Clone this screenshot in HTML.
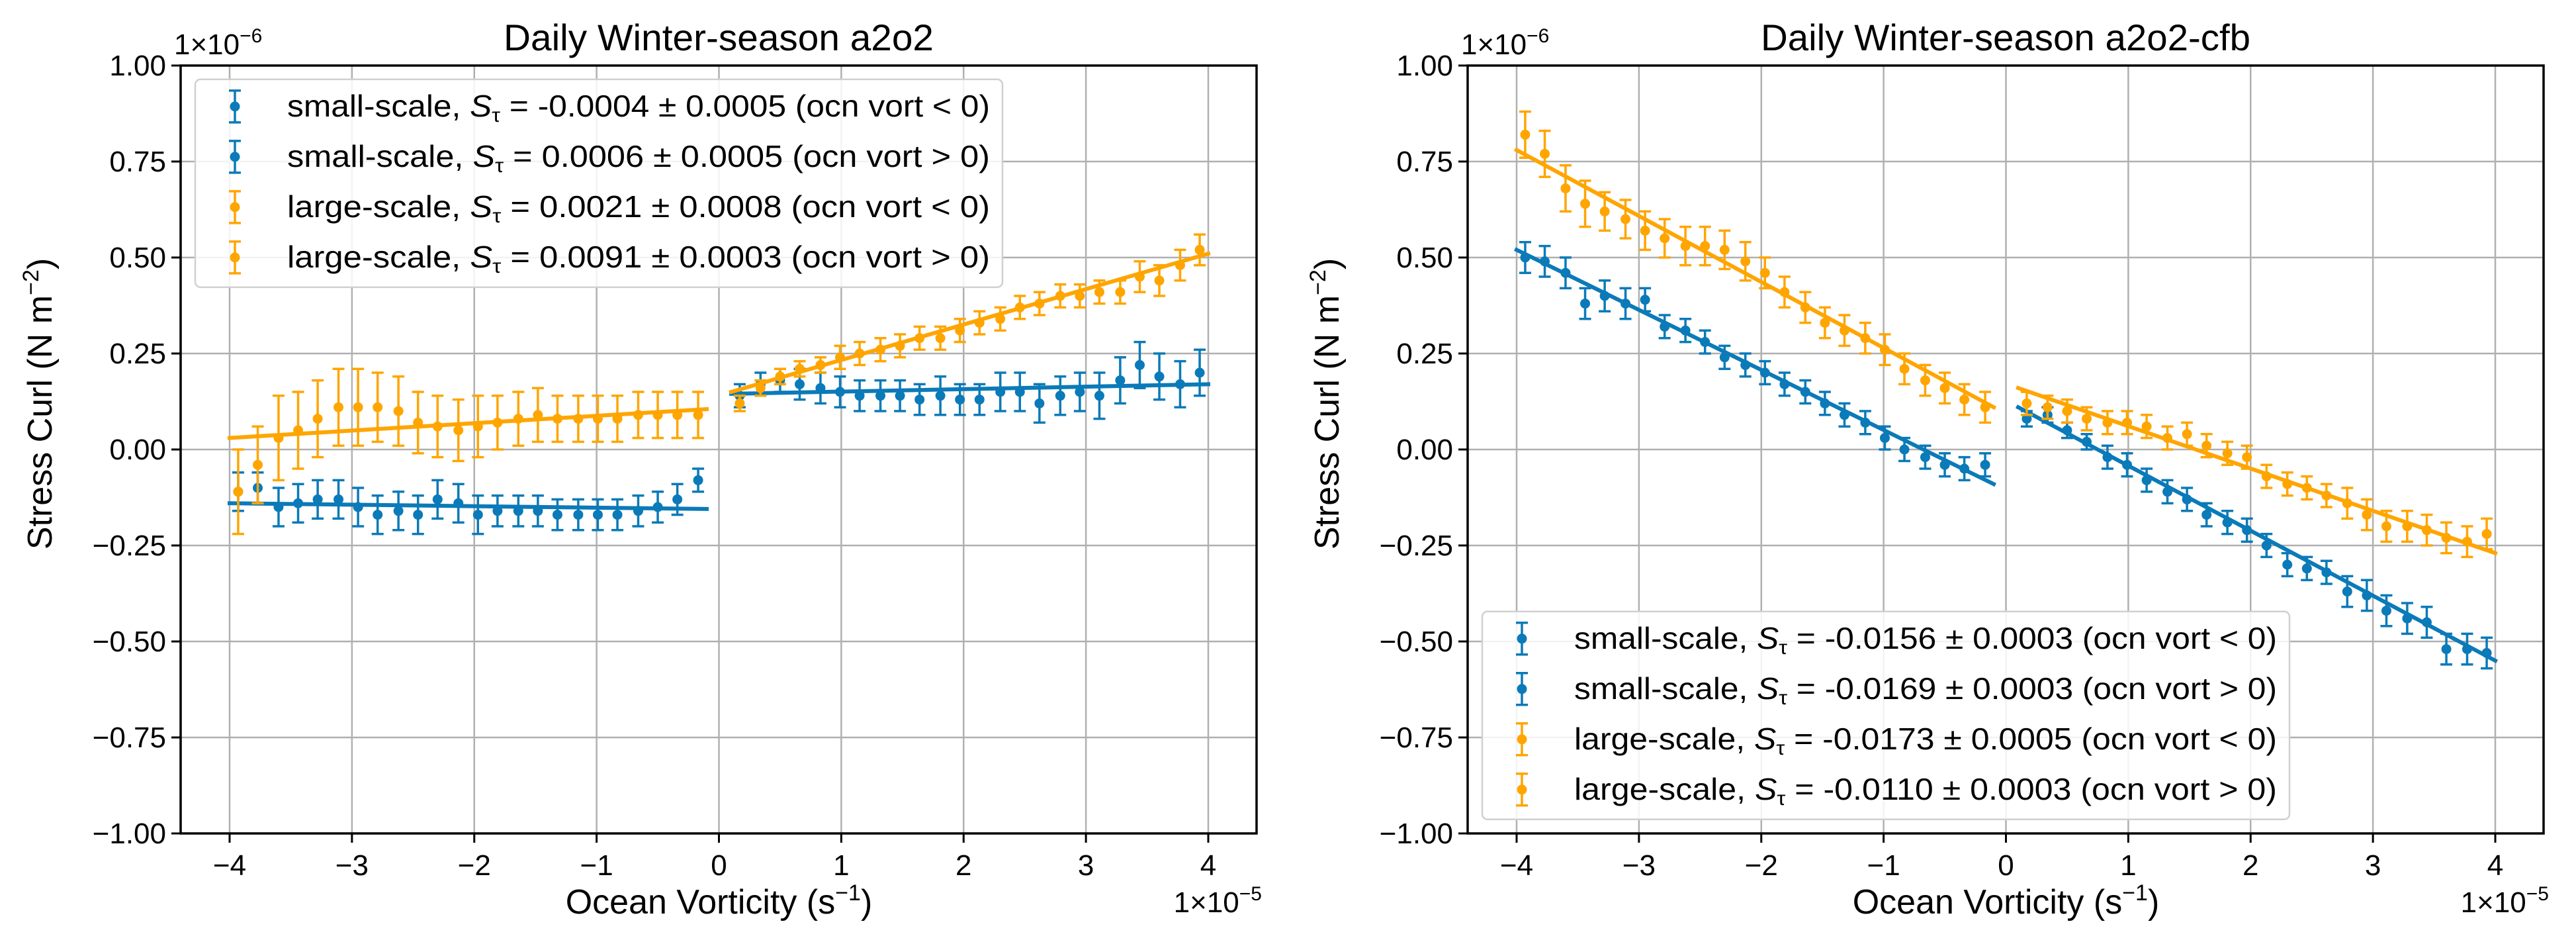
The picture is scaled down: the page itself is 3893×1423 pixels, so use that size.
<!DOCTYPE html>
<html><head><meta charset="utf-8"><title>Daily Winter-season stress curl</title>
<style>
html,body{margin:0;padding:0;background:#fff;}
svg{display:block;font-family:"Liberation Sans","DejaVu Sans",sans-serif;}
</style></head>
<body>
<svg id="fig" width="3893" height="1423" viewBox="0 0 3893 1423" xmlns="http://www.w3.org/2000/svg"></svg>
<script>
// ---------- data ----------
const xNeg = [-3.93,-3.77,-3.60,-3.44,-3.28,-3.11,-2.95,-2.79,-2.62,-2.46,-2.30,-2.13,-1.97,-1.81,-1.64,-1.48,-1.32,-1.15,-0.99,-0.83,-0.66,-0.50,-0.34,-0.17];
const xPos = [0.17,0.34,0.50,0.66,0.83,0.99,1.15,1.32,1.48,1.64,1.81,1.97,2.13,2.30,2.46,2.62,2.79,2.95,3.11,3.28,3.44,3.60,3.77,3.93];
const tickX = [-4,-3,-2,-1,0,1,2,3,4];
const tickXLabels = ["\u22124","\u22123","\u22122","\u22121","0","1","2","3","4"];
const tickY = [1,0.75,0.5,0.25,0,-0.25,-0.5,-0.75,-1];
const tickYLabels = ["1.00","0.75","0.50","0.25","0.00","\u22120.25","\u22120.50","\u22120.75","\u22121.00"];

// panel A (a2o2)
const aSmallNeg = [-0.11,-0.10,-0.15,-0.14,-0.13,-0.13,-0.15,-0.17,-0.16,-0.17,-0.13,-0.14,-0.17,-0.16,-0.16,-0.16,-0.17,-0.17,-0.17,-0.17,-0.16,-0.15,-0.13,-0.08];
const aSmallNegErr = [0.05,0.04,0.05,0.05,0.05,0.05,0.05,0.05,0.05,0.05,0.05,0.05,0.05,0.04,0.04,0.04,0.04,0.04,0.04,0.04,0.04,0.04,0.04,0.03];
const aSmallPos = [0.14,0.17,0.18,0.17,0.16,0.15,0.14,0.14,0.14,0.13,0.14,0.13,0.13,0.15,0.15,0.12,0.14,0.15,0.14,0.18,0.22,0.19,0.17,0.20];
const aSmallPosErr = [0.03,0.03,0.03,0.04,0.04,0.04,0.04,0.04,0.04,0.04,0.05,0.04,0.04,0.05,0.05,0.05,0.05,0.05,0.06,0.06,0.06,0.06,0.06,0.06];
const aLargeNeg = [-0.11,-0.04,0.03,0.05,0.08,0.11,0.11,0.11,0.10,0.07,0.06,0.05,0.06,0.07,0.08,0.09,0.08,0.08,0.08,0.08,0.09,0.09,0.09,0.09];
const aLargeNegErr = [0.11,0.10,0.11,0.10,0.10,0.10,0.10,0.09,0.09,0.08,0.08,0.08,0.08,0.07,0.07,0.07,0.06,0.06,0.06,0.06,0.06,0.06,0.06,0.06];
const aLargePos = [0.12,0.16,0.19,0.21,0.22,0.24,0.25,0.26,0.27,0.29,0.29,0.31,0.33,0.34,0.37,0.38,0.40,0.40,0.41,0.41,0.45,0.44,0.48,0.52];
const aLargePosErr = [0.02,0.02,0.02,0.02,0.02,0.03,0.03,0.03,0.03,0.03,0.03,0.03,0.03,0.03,0.03,0.03,0.03,0.03,0.03,0.03,0.04,0.04,0.04,0.04];
const aFitSmall = [-0.14,-0.155,0.145,0.17];   // neg start,end ; pos start,end
const aFitLarge = [0.03,0.105,0.15,0.51];

// panel B (a2o2-cfb)
const bSmallNeg = [0.50,0.49,0.46,0.38,0.40,0.38,0.39,0.32,0.31,0.28,0.24,0.22,0.20,0.17,0.15,0.12,0.09,0.07,0.03,0.00,-0.02,-0.04,-0.05,-0.04];
const bSmallNegErr = [0.04,0.04,0.04,0.04,0.04,0.04,0.03,0.03,0.03,0.03,0.03,0.03,0.03,0.03,0.03,0.03,0.03,0.03,0.03,0.03,0.03,0.03,0.03,0.03];
const bSmallPos = [0.08,0.09,0.05,0.02,-0.02,-0.04,-0.08,-0.11,-0.13,-0.17,-0.19,-0.21,-0.25,-0.30,-0.31,-0.32,-0.37,-0.38,-0.42,-0.44,-0.45,-0.52,-0.52,-0.53];
const bSmallPosErr = [0.02,0.02,0.02,0.02,0.03,0.03,0.03,0.03,0.03,0.03,0.03,0.03,0.03,0.03,0.03,0.03,0.04,0.04,0.04,0.04,0.04,0.04,0.04,0.04];
const bLargeNeg = [0.82,0.77,0.68,0.64,0.62,0.60,0.57,0.55,0.53,0.53,0.52,0.49,0.46,0.41,0.37,0.33,0.31,0.29,0.26,0.21,0.18,0.16,0.13,0.11];
const bLargeNegErr = [0.06,0.06,0.06,0.06,0.05,0.05,0.05,0.05,0.05,0.05,0.05,0.05,0.04,0.04,0.04,0.04,0.04,0.04,0.04,0.04,0.04,0.04,0.04,0.04];
const bLargePos = [0.12,0.11,0.10,0.08,0.07,0.07,0.06,0.03,0.04,0.01,-0.01,-0.02,-0.07,-0.09,-0.10,-0.12,-0.14,-0.17,-0.20,-0.20,-0.21,-0.23,-0.24,-0.22];
const bLargePosErr = [0.03,0.03,0.03,0.03,0.03,0.03,0.03,0.03,0.03,0.03,0.03,0.03,0.03,0.03,0.03,0.03,0.04,0.04,0.04,0.04,0.04,0.04,0.04,0.04];
const bFitSmall = [0.52,-0.09,0.11,-0.55];
const bFitLarge = [0.78,0.11,0.16,-0.27];

const fitXNeg = [-4,-0.1];
const fitXPos = [0.1,4];

const aLegend = [["small-scale, ","= -0.0004 \u00b1 0.0005 (ocn vort < 0)"],["small-scale, ","= 0.0006 \u00b1 0.0005 (ocn vort > 0)"],["large-scale, ","= 0.0021 \u00b1 0.0008 (ocn vort < 0)"],["large-scale, ","= 0.0091 \u00b1 0.0003 (ocn vort > 0)"]];
const bLegend = [["small-scale, ","= -0.0156 \u00b1 0.0003 (ocn vort < 0)"],["small-scale, ","= -0.0169 \u00b1 0.0003 (ocn vort > 0)"],["large-scale, ","= -0.0173 \u00b1 0.0005 (ocn vort < 0)"],["large-scale, ","= -0.0110 \u00b1 0.0003 (ocn vort > 0)"]];

// ---------- drawing ----------
const NS = "http://www.w3.org/2000/svg";
const svg = document.getElementById("fig");
const BLUE = "#0b7ab8", ORANGE = "#ffa500";
function mk(tag, attrs, parent){ const e=document.createElementNS(NS,tag); for(const k in attrs) e.setAttribute(k,attrs[k]); (parent||svg).appendChild(e); return e; }

function panel(off, title, data, legendTop, legend, key){
  const L=273+off, R=1899+off, T=99, B=1259;
  const xs = v => 347+off + (v+4)*(1826-347)/8;
  const ys = v => T + (1-v)/2*(B-T);
  const g = mk("g",{});
  
  
  // grid
  tickX.forEach(t=>{ const l=mk("line",{x1:xs(t),x2:xs(t),y1:T,y2:B,stroke:"#b0b0b0","stroke-width":2.5},g);
      });
  tickY.forEach(t=>{ const l=mk("line",{x1:L,x2:R,y1:ys(t),y2:ys(t),stroke:"#b0b0b0","stroke-width":2.5},g);
      });
  // series
  data.forEach(s=>{
    const sg=mk("g",{},g);
    
    
    s.x.forEach((xv,i)=>{
      const cx=xs(xv), y1=ys(s.y[i]+s.e[i]), y2=ys(s.y[i]-s.e[i]);
      const eb=mk("path",{d:`M${cx},${y1}V${y2}M${cx-9},${y1}H${cx+9}M${cx-9},${y2}H${cx+9}`,stroke:s.c,"stroke-width":3.5,fill:"none"},sg);
       
      const c=mk("circle",{cx:cx,cy:ys(s.y[i]),r:7.5,fill:s.c},sg);
       
    });
    const fl=mk("line",{x1:xs(s.fx[0]),y1:ys(s.fy[0]),x2:xs(s.fx[1]),y2:ys(s.fy[1]),stroke:s.c,"stroke-width":6,"stroke-linecap":"square"},sg);
     
  });
  // spines
  const fr=mk("rect",{x:L,y:T,width:R-L,height:B-T,fill:"none",stroke:"#000","stroke-width":3.5},g);
   
  // ticks
  tickX.forEach((t,i)=>{ mk("line",{x1:xs(t),x2:xs(t),y1:B,y2:B+14,stroke:"#000","stroke-width":3},g);
    const tx=mk("text",{x:xs(t),y:1322,"font-size":44,"text-anchor":"middle",fill:"#000"},g); tx.textContent=tickXLabels[i];
      });
  tickY.forEach((t,i)=>{ mk("line",{x1:L-14,x2:L,y1:ys(t),y2:ys(t),stroke:"#000","stroke-width":3},g);
    const tx=mk("text",{x:L-22,y:ys(t)+15,"font-size":44,"text-anchor":"end",fill:"#000"},g); tx.textContent=tickYLabels[i];
      });
  // title and labels
  const ti=mk("text",{x:(L+R)/2,y:76,"font-size":56,"text-anchor":"middle",fill:"#000"},g); ti.textContent=title;
  ti.setAttribute('textLength', key==="a2o2"?650:740);
  ti.setAttribute('lengthAdjust','spacingAndGlyphs');
   
  const xl=mk("text",{x:xs(0),y:1380,"font-size":52,"text-anchor":"middle",fill:"#000"},g);
  xl.innerHTML='Ocean Vorticity (s<tspan dy="-20" font-size="34">\u22121</tspan><tspan dy="20">)</tspan>';
   
  const yl=mk("text",{x:0,y:0,"font-size":52,"text-anchor":"middle",fill:"#000",transform:`translate(${off+78},${ys(0)-69}) rotate(-90)`},g);
  yl.innerHTML='Stress Curl (N m<tspan dy="-20" font-size="34">\u22122</tspan><tspan dy="20">)</tspan>';
   
  const oy=mk("text",{x:L-10,y:82,"font-size":44,fill:"#000"},g);
  oy.innerHTML='1\u00d710<tspan dy="-18" font-size="30">\u22126</tspan>';
   
  const ox=mk("text",{x:R+8,y:1378,"font-size":44,"text-anchor":"end",fill:"#000"},g);
  ox.innerHTML='1\u00d710<tspan dy="-18" font-size="30">\u22125</tspan>';
   
  // legend
  const lg=mk("g",{},g);
   
  const top=ys(legendTop);
  mk("rect",{x:295+off,y:top,width:1220,height:314,rx:8,fill:"#fff","fill-opacity":0.85,stroke:"#d0d0d0","stroke-width":2.5},lg);
  legend.forEach((lab,i)=>{
    const yy=top+41+i*76, c=i<2?BLUE:ORANGE, mx=355+off;
    const e=mk("g",{},lg);
     
    mk("path",{d:`M${mx},${yy-24}V${yy+24}M${mx-9},${yy-24}H${mx+9}M${mx-9},${yy+24}H${mx+9}`,stroke:c,"stroke-width":3.5,fill:"none"},e);
    mk("circle",{cx:mx,cy:yy,r:7.5,fill:c},e);
    const t=mk("text",{x:434+off,y:yy+15,"font-size":46,fill:"#000"},e);
    t.innerHTML=`${lab[0]}<tspan font-style="italic">S</tspan><tspan font-size="30" dy="8">\u03c4</tspan><tspan dy="-8"> ${lab[1]}</tspan>`;
    t.setAttribute('textLength', 1062);
    t.setAttribute('lengthAdjust','spacingAndGlyphs');
  });
}

function series(name,x,y,e,c,fx,fy){ return {name,x,y,e,c,fx,fy}; }

panel(0,"Daily Winter-season a2o2",[
  series("small-scale-neg",xNeg,aSmallNeg,aSmallNegErr,BLUE,fitXNeg,[aFitSmall[0],aFitSmall[1]]),
  series("small-scale-pos",xPos,aSmallPos,aSmallPosErr,BLUE,fitXPos,[aFitSmall[2],aFitSmall[3]]),
  series("large-scale-neg",xNeg,aLargeNeg,aLargeNegErr,ORANGE,fitXNeg,[aFitLarge[0],aFitLarge[1]]),
  series("large-scale-pos",xPos,aLargePos,aLargePosErr,ORANGE,fitXPos,[aFitLarge[2],aFitLarge[3]])
],0.964,aLegend,"a2o2");

panel(1945,"Daily Winter-season a2o2-cfb",[
  series("small-scale-neg",xNeg,bSmallNeg,bSmallNegErr,BLUE,fitXNeg,[bFitSmall[0],bFitSmall[1]]),
  series("small-scale-pos",xPos,bSmallPos,bSmallPosErr,BLUE,fitXPos,[bFitSmall[2],bFitSmall[3]]),
  series("large-scale-neg",xNeg,bLargeNeg,bLargeNegErr,ORANGE,fitXNeg,[bFitLarge[0],bFitLarge[1]]),
  series("large-scale-pos",xPos,bLargePos,bLargePosErr,ORANGE,fitXPos,[bFitLarge[2],bFitLarge[3]])
],-0.422,bLegend,"a2o2-cfb");
</script>
</body></html>
